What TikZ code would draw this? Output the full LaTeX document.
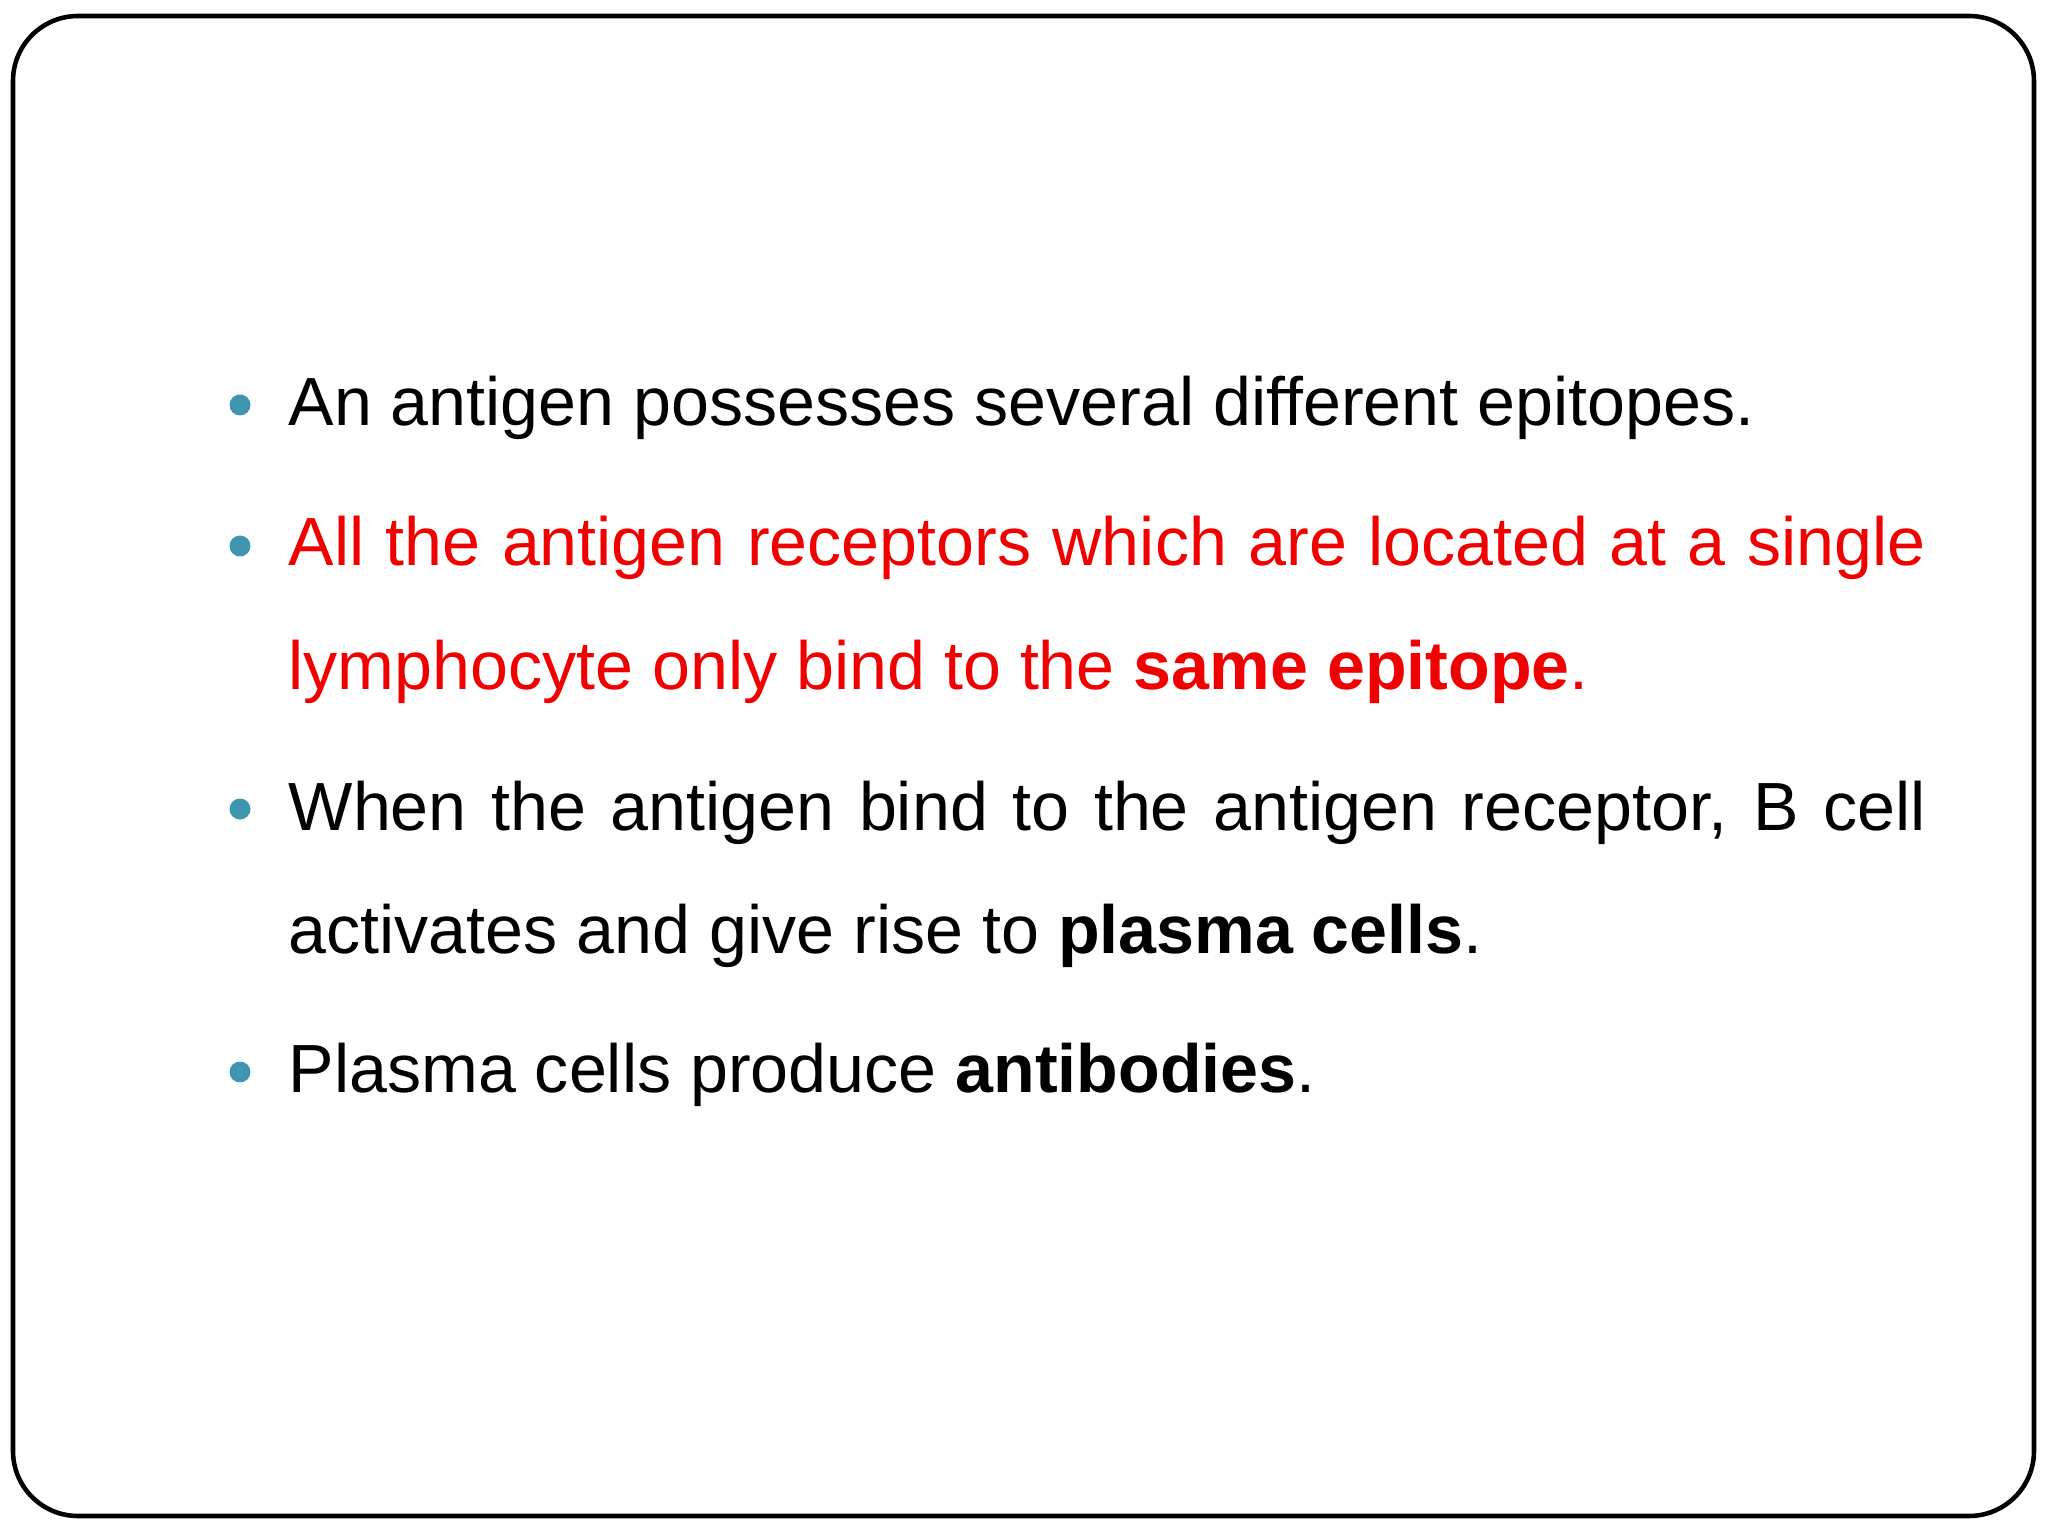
\documentclass[tikz,border=0pt]{standalone}
\usepackage{fontspec}
\setmainfont{Liberation Sans}
\definecolor{bul}{HTML}{3F95AE}
\definecolor{redt}{HTML}{F00000}
\begin{document}
\begin{tikzpicture}[x=1cm,y=1cm,
  ln/.style={anchor=base west,inner sep=0pt,font=\fontsize{19.4}{23}\selectfont},
  bullet/.style={circle,fill=bul,inner sep=0pt,minimum size=0.21cm}]
\useasboundingbox (0,0) rectangle (20.48,-15.36);
\draw[line width=1.3pt,rounded corners=0.65cm] (0.13,-0.16) rectangle (20.34,-15.16);
\node[bullet] (b1) at (2.40,-4.05) {};
\node[bullet] (b2) at (2.40,-5.46) {};
\node[bullet] (b3) at (2.40,-8.09) {};
\node[bullet] (b4) at (2.40,-10.72) {};
\node[ln] (l1) at (2.88,-4.26) {An antigen possesses several different epitopes.};
\node[ln,text=redt] (l2) at (2.88,-5.66) {\makebox[16.37cm][s]{All the antigen receptors which are located at a single}};
\node[ln,text=redt] (l3) at (2.88,-6.90) {lymphocyte only bind to the \textbf{same epitope}.};
\node[ln] (l4) at (2.88,-8.30) {\makebox[16.37cm][s]{When the antigen bind to the antigen receptor, B cell}};
\node[ln] (l5) at (2.88,-9.53) {activates and give rise to \textbf{plasma cells}.};
\node[ln] (l6) at (2.88,-10.93) {Plasma cells produce \textbf{antibodies}.};
\end{tikzpicture}
\end{document}
